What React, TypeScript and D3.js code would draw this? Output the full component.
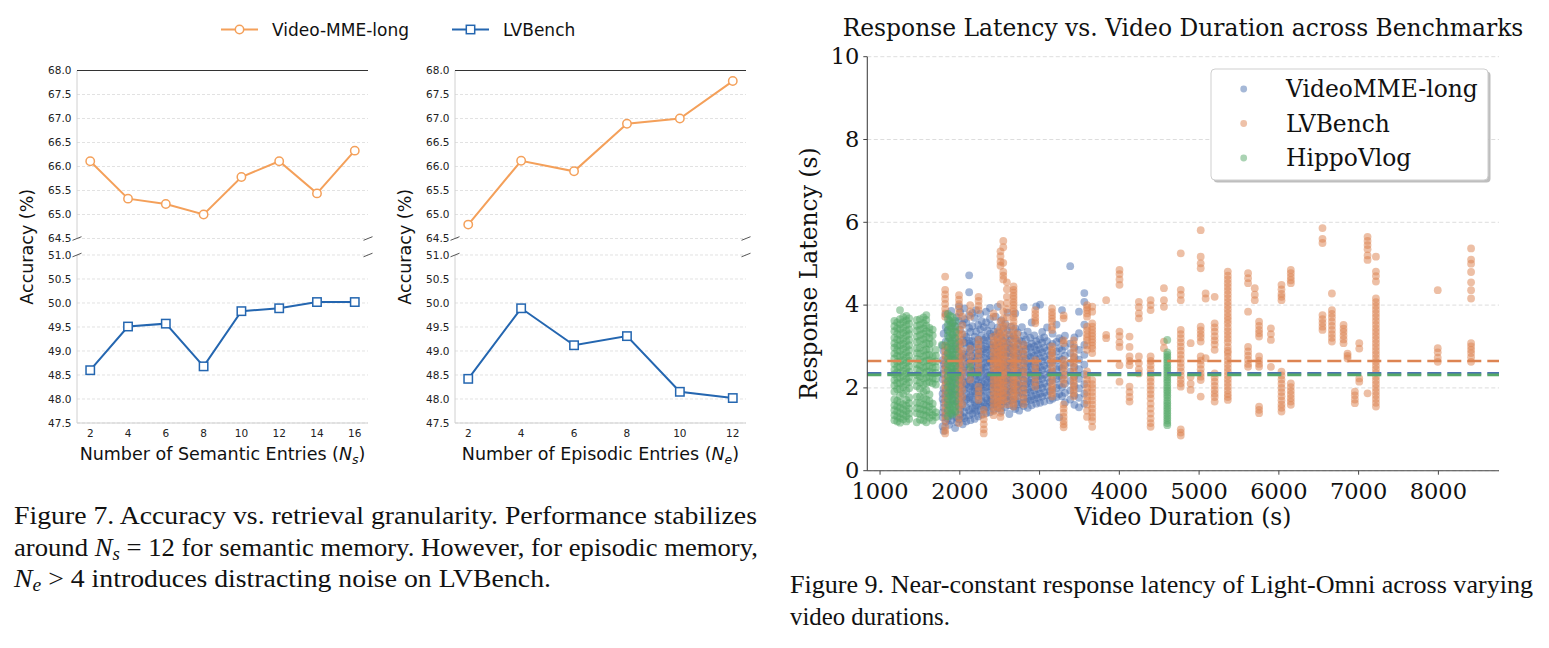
import * as d3 from 'd3'
import React, { useEffect, useRef } from 'react'

const W = 1549
const H = 648

// Figure 7: accuracy against number of retrieved entries
const semanticEntries = [2, 4, 6, 8, 10, 12, 14, 16]
const semanticVideoMME = [66.11, 65.33, 65.22, 65.0, 65.78, 66.11, 65.44, 66.33]
const semanticLVBench = [48.6, 49.51, 49.57, 48.68, 49.83, 49.89, 50.02, 50.02]

const episodicEntries = [2, 4, 6, 8, 10, 12]
const episodicVideoMME = [64.79, 66.12, 65.9, 66.89, 67.0, 67.78]
const episodicLVBench = [48.42, 49.89, 49.12, 49.31, 48.15, 48.02]

const upperTicks = [64.5, 65.0, 65.5, 66.0, 66.5, 67.0, 67.5, 68.0]
const lowerTicks = [47.5, 48.0, 48.5, 49.0, 49.5, 50.0, 50.5, 51.0]

// Figure 9: latency per question, grouped by video duration (s)
const videoMMELatency: [number, number[]][] = [
  [1784, [1.07, 1.29, 1.41, 1.73, 1.86, 2.21, 2.34, 2.67, 3.02]],
  [1797, [0.96, 1.52, 1.64, 1.98, 2.45, 2.58, 2.89, 3.31]],
  [1823, [1.18, 1.35, 1.81, 1.93, 2.12, 2.52, 2.76, 3.12, 3.47, 3.78]],
  [1848, [1.26, 1.49, 1.68, 2.07, 2.29, 2.41, 2.83, 2.97, 3.38]],
  [1866, [1.11, 1.57, 1.79, 1.89, 2.17, 2.63, 2.72, 3.21, 3.63]],
  [1893, [1.21, 1.39, 1.92, 2.03, 2.36, 2.49, 2.91, 3.08, 3.44, 3.86]],
  [1908, [1.33, 1.71, 1.84, 2.14, 2.27, 2.68, 2.81, 3.27, 3.56]],
  [1941, [1.03, 1.44, 1.61, 1.97, 2.22, 2.39, 2.71, 3.01, 3.19, 3.49]],
  [1962, [1.17, 1.28, 1.66, 1.83, 2.08, 2.47, 2.59, 2.93, 3.33, 3.71]],
  [1989, [1.24, 1.55, 1.74, 1.9, 2.18, 2.31, 2.64, 2.87, 3.11, 3.62, 3.97]],
  [2004, [1.36, 1.48, 1.87, 2.06, 2.26, 2.55, 2.74, 3.04, 3.41, 3.83]],
  [2036, [1.12, 1.31, 1.59, 1.78, 2.01, 2.19, 2.43, 2.69, 2.82, 3.16, 3.54]],
  [2058, [1.27, 1.42, 1.69, 1.95, 2.13, 2.37, 2.51, 2.79, 3.09, 3.29, 3.66, 3.92]],
  [2081, [1.19, 1.53, 1.72, 1.86, 2.09, 2.28, 2.57, 2.74, 2.96, 3.23, 3.58]],
  [2117, [1.34, 1.46, 1.77, 1.99, 2.16, 2.44, 2.62, 2.86, 3.07, 3.14, 3.45, 3.76, 4.31, 4.72]],
  [2133, [1.22, 1.63, 1.81, 2.04, 2.24, 2.33, 2.66, 2.91, 3.02, 3.35]],
  [2158, [1.38, 1.51, 1.73, 1.92, 2.11, 2.41, 2.53, 2.77, 3.13, 3.49, 3.81]],
  [2186, [1.25, 1.47, 1.66, 1.91, 2.02, 2.29, 2.48, 2.71, 2.98, 3.24, 3.69]],
  [2203, [1.43, 1.58, 1.85, 2.07, 2.21, 2.39, 2.64, 2.84, 3.06, 3.36, 3.88]],
  [2231, [1.31, 1.62, 1.79, 1.96, 2.18, 2.35, 2.59, 2.78, 2.93, 3.18, 3.52]],
  [2256, [1.46, 1.57, 1.88, 2.05, 2.26, 2.47, 2.69, 2.88, 3.11, 3.42, 3.79]],
  [2274, [1.35, 1.68, 1.81, 2.01, 2.14, 2.43, 2.56, 2.81, 3.03, 3.27, 3.61]],
  [2302, [1.5, 1.64, 1.93, 2.09, 2.31, 2.49, 2.73, 2.94, 3.16, 3.47]],
  [2329, [1.39, 1.56, 1.75, 2.02, 2.2, 2.37, 2.61, 2.85, 2.99, 3.22, 3.58, 3.84]],
  [2347, [1.54, 1.71, 1.9, 2.13, 2.28, 2.52, 2.68, 2.92, 3.14, 3.39]],
  [2378, [1.41, 1.66, 1.82, 2.04, 2.24, 2.4, 2.63, 2.79, 3.05, 3.31, 3.67, 3.93]],
  [2396, [1.58, 1.73, 1.97, 2.15, 2.33, 2.57, 2.75, 2.97, 3.24, 3.51]],
  [2427, [1.47, 1.62, 1.87, 2.07, 2.25, 2.44, 2.7, 2.89, 3.09, 3.36]],
  [2449, [1.61, 1.79, 2.01, 2.18, 2.38, 2.59, 2.82, 3.02, 3.28, 3.72]],
  [2475, [1.51, 1.69, 1.92, 2.11, 2.29, 2.49, 2.73, 2.95, 3.17, 3.46, 3.96]],
  [2493, [1.65, 1.85, 2.06, 2.22, 2.44, 2.65, 2.86, 3.07, 3.33]],
  [2522, [1.44, 1.6, 1.83, 2.0, 2.19, 2.42, 2.6, 2.81, 3.01, 3.26, 3.63]],
  [2547, [1.68, 1.88, 2.1, 2.27, 2.5, 2.71, 2.92, 3.13, 3.44]],
  [2569, [1.53, 1.77, 1.95, 2.16, 2.36, 2.55, 2.78, 2.99, 3.21, 3.55]],
  [2598, [1.67, 1.83, 2.04, 2.23, 2.46, 2.63, 2.87, 3.1, 3.39, 3.82]],
  [2621, [1.37, 1.58, 1.8, 1.98, 2.21, 2.39, 2.62, 2.84, 3.04, 3.29]],
  [2643, [1.7, 1.91, 2.12, 2.32, 2.53, 2.76, 2.96, 3.18, 3.48]],
  [2672, [1.55, 1.72, 1.96, 2.14, 2.37, 2.57, 2.8, 3.0, 3.25]],
  [2695, [1.49, 1.73, 1.94, 2.13, 2.34, 2.55, 2.77, 2.98, 3.19, 3.43, 3.8]],
  [2728, [1.6, 1.81, 2.03, 2.2, 2.41, 2.62, 2.83, 3.06, 3.34]],
  [2744, [1.45, 1.65, 1.89, 2.08, 2.3, 2.49, 2.72, 2.93, 3.15]],
  [2779, [1.63, 1.86, 2.05, 2.26, 2.44, 2.67, 2.88, 3.12, 3.47]],
  [2801, [1.56, 1.75, 1.99, 2.19, 2.4, 2.61, 2.81, 3.03, 3.27, 3.95]],
  [2829, [1.67, 1.88, 2.09, 2.29, 2.51, 2.7, 2.94, 3.17]],
  [2852, [1.52, 1.74, 1.97, 2.16, 2.38, 2.58, 2.79, 3.01, 3.36]],
  [2884, [1.7, 1.9, 2.12, 2.33, 2.52, 2.74, 2.97, 3.21]],
  [2901, [1.58, 1.8, 2.02, 2.22, 2.43, 2.64, 2.85, 3.07, 3.58]],
  [2933, [1.73, 1.94, 2.15, 2.35, 2.57, 2.78, 3.0, 3.27]],
  [2958, [1.62, 1.83, 2.06, 2.27, 2.47, 2.69, 2.91, 3.13, 3.97]],
  [2979, [1.76, 1.98, 2.19, 2.4, 2.6, 2.83, 3.04]],
  [3006, [1.64, 1.86, 2.08, 2.29, 2.5, 2.72, 2.93, 3.18, 4.01]],
  [3033, [1.79, 2.0, 2.22, 2.43, 2.64, 2.86, 3.09, 3.35]],
  [3058, [1.67, 1.89, 2.11, 2.32, 2.54, 2.75, 2.97, 3.22]],
  [3094, [1.82, 2.03, 2.25, 2.47, 2.68, 2.9, 3.13, 3.46]],
  [3129, [1.7, 1.92, 2.14, 2.36, 2.58, 2.79, 3.01]],
  [3163, [1.74, 1.95, 2.18, 2.4, 2.62, 2.84, 3.06, 3.31]],
  [3212, [1.78, 2.0, 2.22, 2.45, 2.66, 2.88, 3.11, 3.53]],
  [3247, [1.29, 1.85, 2.07, 2.29, 2.51, 2.73, 2.96, 3.2]],
  [3281, [1.8, 2.02, 2.24, 2.47, 2.69, 2.91, 3.15, 3.88]],
  [3318, [1.65, 1.88, 2.1, 2.32, 2.55, 2.78, 3.0, 3.26]],
  [3384, [1.72, 1.94, 2.17, 2.39, 2.61, 2.84, 3.07, 4.94]],
  [3437, [1.59, 1.82, 2.05, 2.28, 2.51, 2.74, 2.98, 3.22]],
  [3494, [1.53, 1.76, 1.99, 2.22, 2.45, 2.68, 2.92, 3.32, 3.84]],
  [3561, [1.62, 1.86, 2.09, 2.33, 2.56, 2.8, 3.04, 3.53, 4.08, 4.29]],
]

const lvBenchLatency: [number, number[]][] = [
  [1816, [4.69, 4.37, 4.26, 4.15, 4.03, 3.91, 3.8, 3.72, 3.02, 2.91, 2.79, 2.68, 2.55, 2.43, 2.31, 2.18, 2.06, 1.95, 1.82, 1.7, 1.58, 1.45, 1.33, 1.21, 1.06, 0.97, 0.9]],
  [1990, [4.24, 4.13, 4.02, 3.91, 3.8, 3.4, 3.29, 3.17, 3.05, 2.94, 2.83, 2.71, 2.6, 2.48, 2.37, 2.25, 2.13, 2.01, 1.9, 1.78, 1.65, 1.53, 1.41, 1.28, 1.15]],
  [2030, [3.72, 3.51, 3.3, 3.1, 2.9, 2.74, 2.6, 2.44, 2.3, 2.12, 1.95, 1.78, 1.6]],
  [2130, [4.0, 3.85, 3.72, 2.95, 2.78, 2.6, 2.41, 2.2]],
  [2235, [4.2, 4.1, 3.98, 3.88, 3.16, 3.05, 2.94, 2.83, 2.71, 2.6, 2.49, 2.38, 2.03, 1.92, 1.81, 1.71]],
  [2300, [1.47, 1.36, 1.24, 1.12, 1.0, 0.9]],
  [2423, [3.8, 3.72, 3.24, 3.15, 3.05, 2.96, 2.86, 2.77, 2.67, 2.58, 2.48, 2.39, 2.29, 2.2, 2.1, 2.01, 1.91, 1.82, 1.72, 1.63, 1.53, 1.44, 1.34]],
  [2475, [3.36, 3.22, 3.1, 2.98, 2.86, 2.74, 2.62, 2.5, 2.38, 2.26, 2.14, 2.02, 1.9, 1.78, 1.66, 1.54]],
  [2510, [5.3, 5.18, 5.05, 4.95, 4.02, 3.6, 3.45, 3.3, 3.15, 3.0, 2.9, 2.8, 2.7, 2.6, 2.5, 2.4, 2.3, 2.2, 2.1, 2.0, 1.9, 1.8, 1.7, 1.6, 1.5, 1.4, 1.3]],
  [2545, [5.55, 5.4, 5.02, 4.8, 4.71, 4.62, 3.85, 3.67, 3.5, 3.35, 3.2, 3.06, 2.93, 2.8, 2.68, 2.56, 2.43, 2.31, 2.18, 2.06, 1.94, 1.82, 1.7]],
  [2590, [4.55, 4.38, 4.2, 4.05, 3.9, 3.7, 3.5, 3.3, 3.1, 2.95, 2.8, 2.65, 2.5, 2.35, 2.2, 2.05, 1.9, 1.75, 1.6]],
  [2674, [4.45, 4.37, 4.3, 4.22, 4.15, 4.07, 4.0, 3.92, 3.85, 3.77, 3.7, 3.6, 3.5, 3.4, 3.3, 3.2, 3.1, 3.0, 2.92, 2.84, 2.75, 2.67, 2.6, 2.52, 2.45, 2.37, 2.3, 2.22, 2.15, 2.07, 2.0, 1.92, 1.85, 1.77, 1.7, 1.62, 1.55]],
  [2720, [3.3, 3.15, 3.0, 2.85, 2.7, 2.55, 2.4, 2.25, 2.1, 1.95, 1.8]],
  [2800, [3.05, 2.93, 2.82, 2.7, 2.6, 2.48, 2.38, 2.27, 2.16, 2.05, 1.94, 1.83, 1.72, 1.6]],
  [2946, [3.88, 3.79, 3.7, 3.62, 3.56, 2.67, 2.56, 2.45, 2.35, 2.25, 2.14, 2.03]],
  [3156, [3.92, 3.83, 3.75, 3.67, 3.6, 3.48, 3.4, 3.0, 2.92, 2.85, 2.77, 2.7, 2.6, 2.5, 2.4, 2.3, 2.2, 2.1, 2.02, 1.95, 1.87, 1.79]],
  [3302, [3.75, 3.68, 3.15, 3.08, 2.67, 2.58, 2.5, 2.4, 2.3, 2.2, 2.1, 1.6, 1.5, 1.4, 1.3, 1.2, 1.12, 1.05]],
  [3428, [3.15, 3.05, 2.95, 2.85, 2.75, 2.68, 2.6, 2.5, 2.4, 2.32, 2.25, 2.17, 2.1, 2.02, 1.95, 1.87, 1.79]],
  [3595, [4.0, 3.94, 3.88, 3.8, 3.72, 3.48, 3.39, 3.3, 3.22, 3.15, 3.03, 2.92, 2.4, 2.3, 2.2, 2.1, 2.0, 1.9, 1.8, 1.7, 1.6, 1.45, 1.3]],
  [3660, [3.96, 3.84, 3.56, 3.48, 3.4, 3.32, 3.25, 3.17, 3.1, 3.02, 2.95, 2.84, 2.19, 2.09, 2.0, 1.9, 1.8, 1.7, 1.6, 1.5, 1.4, 1.3, 1.2, 1.06]],
  [3835, [4.12, 3.28, 3.2]],
  [4002, [4.85, 4.75, 4.62, 4.49, 3.36, 3.25, 3.1, 2.99, 2.55, 2.15]],
  [4128, [3.24, 2.99, 2.76, 2.65, 2.55, 2.03, 1.9, 1.78, 1.67]],
  [4245, [4.08, 3.95, 3.8, 3.68, 2.76, 2.6, 2.45, 2.35]],
  [4392, [4.12, 4.0, 3.88, 2.76, 2.65, 2.55, 2.45, 2.35, 2.24, 2.15, 2.05, 1.95, 1.85, 1.75, 1.62, 1.5, 1.38, 1.26, 1.15, 1.06]],
  [4559, [4.41, 4.12, 3.96, 3.12, 2.96]],
  [4770, [5.25, 4.37, 4.25, 4.12, 3.4, 3.3, 3.2, 3.1, 3.0, 2.9, 2.8, 2.7, 2.6, 2.5, 2.4, 2.3, 2.2, 2.11, 2.03, 1.0, 0.92, 0.85]],
  [4894, [3.08, 2.27, 2.1, 1.95]],
  [5020, [5.81, 5.17, 5.01, 4.89, 3.48, 3.39, 3.3, 3.22, 3.12, 2.76, 2.66, 2.56, 2.45, 2.35, 2.27, 2.19, 1.79]],
  [5082, [4.28, 4.16, 2.72]],
  [5195, [4.2, 3.56, 3.46, 3.36, 3.25, 3.15, 3.05, 2.92, 2.35, 2.25, 2.15, 2.05, 1.95, 1.86, 1.78, 1.67]],
  [5360, [4.81, 4.71, 4.62, 4.53, 4.44, 4.35, 4.26, 4.17, 4.08, 3.99, 3.9, 3.81, 3.72, 3.64, 3.56, 3.46, 3.37, 3.28, 3.19, 3.1, 2.99, 2.9, 2.84, 2.75, 2.66, 2.57, 2.48, 2.39, 2.3, 2.21, 2.12, 2.03, 1.94, 1.85, 1.78, 1.71]],
  [5614, [4.77, 4.65, 4.53, 3.84, 2.99, 2.88, 2.78, 2.68, 2.58, 2.51]],
  [5698, [4.41, 4.25, 4.12]],
  [5752, [3.6, 3.5, 3.4, 3.32, 3.24, 2.76, 2.66, 2.58, 2.51, 1.55, 1.47, 1.39]],
  [5900, [3.44, 3.3, 3.16, 2.51]],
  [6033, [4.49, 4.38, 4.27, 4.2, 4.12, 2.39, 2.3, 2.2, 2.1, 2.0, 1.9, 1.8, 1.7, 1.6, 1.52, 1.43]],
  [6150, [4.85, 4.77, 4.68, 4.6, 4.53, 2.11, 2.02, 1.93, 1.84, 1.75, 1.67, 1.59]],
  [6547, [5.86, 5.6, 5.5, 3.76, 3.66, 3.57, 3.48, 3.4]],
  [6665, [4.28, 3.88, 3.79, 3.7, 3.6, 3.5, 3.4, 3.3, 3.21, 3.12]],
  [6811, [3.52, 3.43, 3.35, 3.26, 3.17, 3.08]],
  [6861, [2.83, 2.77, 2.71]],
  [6953, [1.91, 1.82, 1.72, 1.63]],
  [7008, [3.08, 2.95, 2.23, 2.15]],
  [7112, [5.65, 5.55, 5.45, 5.35, 5.2, 5.09, 1.87]],
  [7217, [5.17, 4.81, 4.7, 4.57, 4.16, 4.07, 3.98, 3.89, 3.8, 3.71, 3.62, 3.53, 3.44, 3.35, 3.26, 3.17, 3.08, 2.99, 2.9, 2.81, 2.72, 2.63, 2.54, 2.45, 2.36, 2.27, 2.18, 2.09, 2.0, 1.91, 1.82, 1.73, 1.64, 1.55]],
  [7992, [4.36, 2.96, 2.86, 2.73, 2.63]],
  [8410, [5.37, 5.1, 5.0, 4.8, 4.55, 4.36, 4.16, 3.08, 3.0, 2.92, 2.84, 2.74, 2.63]],
]

const hippoVlogLatency: [number, number[]][] = [
  [1180, [3.62, 3.49, 3.37, 3.21, 3.08, 2.97, 2.83, 2.71, 2.58, 2.44, 2.33, 2.19, 2.06, 1.91, 1.72, 1.58, 1.46, 1.34, 1.22]],
  [1215, [3.58, 3.44, 3.31, 3.17, 3.02, 2.91, 2.78, 2.63, 2.51, 2.38, 2.24, 2.12, 1.97, 1.69, 1.55, 1.43, 1.31, 1.19]],
  [1250, [3.88, 3.66, 3.54, 3.42, 3.28, 3.15, 3.03, 2.89, 2.76, 2.64, 2.5, 2.37, 2.25, 2.11, 1.98, 1.81, 1.65, 1.52, 1.39, 1.27, 1.16]],
  [1290, [3.71, 3.59, 3.45, 3.33, 3.19, 3.06, 2.94, 2.8, 2.67, 2.55, 2.41, 2.28, 2.16, 2.02, 1.86, 1.61, 1.48, 1.36, 1.24]],
  [1330, [3.74, 3.63, 3.52, 3.38, 3.26, 3.13, 2.99, 2.86, 2.74, 2.61, 2.47, 2.35, 2.22, 2.09, 1.93, 1.71, 1.57, 1.44, 1.32, 1.19]],
  [1365, [3.68, 3.55, 3.41, 3.3, 3.16, 3.03, 2.91, 2.77, 2.65, 2.52, 2.39, 2.26, 2.14, 1.99, 1.77, 1.63, 1.5, 1.38, 1.25]],
  [1460, [3.64, 3.5, 3.38, 3.24, 3.11, 2.96, 2.84, 2.7, 2.57, 2.45, 2.31, 2.18, 2.04, 1.79, 1.64, 1.51, 1.39, 1.17]],
  [1500, [3.66, 3.53, 3.41, 3.28, 3.14, 2.97, 2.83, 2.68, 2.54, 2.41, 2.27, 2.13, 1.98, 1.79, 1.63, 1.49, 1.37, 1.23]],
  [1545, [3.7, 3.57, 3.44, 3.31, 3.18, 3.05, 2.9, 2.76, 2.63, 2.49, 2.36, 2.23, 2.08, 1.91, 1.75, 1.6, 1.47, 1.35, 1.21]],
  [1580, [3.76, 3.64, 3.51, 3.37, 3.23, 3.08, 2.93, 2.79, 2.66, 2.52, 2.39, 2.25, 2.11, 1.94, 1.72, 1.58, 1.45, 1.33, 1.17]],
  [1620, [3.45, 3.33, 3.2, 3.06, 2.93, 2.8, 2.67, 2.53, 2.4, 2.27, 2.14, 1.84, 1.68, 1.55, 1.41, 1.28]],
  [1660, [3.41, 3.27, 3.09, 2.76, 2.62, 2.49, 2.36, 2.23, 2.11, 1.62, 1.48, 1.34, 1.21]],
  [1700, [2.92, 2.78, 2.64, 2.5, 2.36, 2.22, 2.08, 1.41, 1.3]],
  [1774, [3.04]],
  [1850, [3.79, 3.66, 3.53, 3.4, 3.26, 3.12, 2.98, 2.84, 2.71, 2.57, 2.43, 2.29, 2.16, 2.02, 1.87, 1.73, 1.59, 1.45, 1.31]],
  [1880, [3.74, 3.61, 3.48, 3.35, 3.21, 3.07, 2.93, 2.79, 2.66, 2.52, 2.38, 2.24, 2.1, 1.96, 1.81, 1.66, 1.52, 1.39]],
  [1910, [3.71, 3.57, 3.44, 3.29, 3.15, 3.01, 2.87, 2.73, 2.6, 2.46, 2.33, 2.19, 2.04, 1.89, 1.74, 1.6, 1.47, 1.36]],
  [1945, [3.62, 3.48, 3.35, 3.21, 3.07, 2.94, 2.8, 2.66, 2.53, 2.39, 2.26, 2.12, 1.98, 1.83, 1.68, 1.55, 1.42]],
  [2130, [2.51]],
  [4601, [3.16, 2.86, 2.8, 2.74, 2.68, 2.62, 2.55, 2.49, 2.43, 2.37, 2.31, 2.25, 2.19, 2.13, 2.06, 2.0, 1.94, 1.88, 1.82, 1.76, 1.69, 1.63, 1.57, 1.51, 1.45, 1.39, 1.33, 1.27, 1.21, 1.15, 1.1]],
]

const benchmarks = ['VideoMME-long', 'LVBench', 'HippoVlog']
const meanLatency = [2.355, 2.65, 2.315]
const latencyTicks = [0, 2, 4, 6, 8, 10]
const durationTicks = [1000, 2000, 3000, 4000, 5000, 6000, 7000, 8000]

const SANS = '"DejaVu Sans", sans-serif'
const SERIF = '"DejaVu Serif", serif'
const TIMES = '"Liberation Serif", "Times New Roman", serif'
const ORANGE = '#f4a05a'
const BLUE = '#2466b0'
const DEEP = ['#4c72b0', '#dd8452', '#55a868']

type Sel = d3.Selection<SVGSVGElement, unknown, null, undefined>

const drawAccuracyPanel = (svg: Sel, p: any) => {
  const n = p.entries.length
  const pad = (p.entries[n - 1] - p.entries[0]) * 0.05
  const x = d3.scaleLinear().domain([p.entries[0] - pad, p.entries[n - 1] + pad]).range([p.left, p.right])
  const yTop = d3.scaleLinear().domain([64.5, 68]).range([238.5, 70.5])
  const yBot = d3.scaleLinear().domain([47.5, 51]).range([423, 255])
  const g = svg.append('g')

  const parts: [any, number[]][] = [[yTop, upperTicks], [yBot, lowerTicks]]
  parts.forEach(([y, ticks]) => {
    g.selectAll(null).data(ticks).enter().append('line')
      .attr('x1', p.left).attr('x2', p.right)
      .attr('y1', d => y(d)).attr('y2', d => y(d))
      .style('stroke', '#d6d6d6').style('stroke-width', 0.7).style('stroke-dasharray', '3,2')
    g.selectAll(null).data(ticks).enter().append('text')
      .attr('x', p.left - 5.5).attr('y', d => y(d)).attr('dy', '0.36em')
      .attr('text-anchor', 'end')
      .style('font-family', SANS).style('font-size', '10.5px').style('fill', '#222')
      .text(d => d.toFixed(1))
    g.append('line')
      .attr('x1', p.left).attr('x2', p.left)
      .attr('y1', y.range()[0]).attr('y2', y.range()[1])
      .style('stroke', '#d0d0d0').style('stroke-width', 1)
  })

  // top spine of the upper part, bottom spine of the lower part
  g.append('line').attr('x1', p.left).attr('x2', p.right).attr('y1', yTop(68)).attr('y2', yTop(68))
    .style('stroke', '#333').style('stroke-width', 1)
  g.append('line').attr('x1', p.left).attr('x2', p.right).attr('y1', yBot(47.5)).attr('y2', yBot(47.5))
    .style('stroke', '#d0d0d0').style('stroke-width', 1)

  // diagonal break marks
  const breaks: [number, number][] = []
  ;[p.left, p.right].forEach(bx => [yTop(64.5), yBot(51)].forEach(by => breaks.push([bx, by])))
  g.selectAll(null).data(breaks).enter().append('line')
    .attr('x1', d => d[0] - 4.5).attr('y1', d => d[1] + 1.8)
    .attr('x2', d => d[0] + 4.5).attr('y2', d => d[1] - 1.8)
    .style('stroke', '#444').style('stroke-width', 0.9)

  g.selectAll(null).data(p.entries).enter().append('text')
    .attr('x', d => x(d)).attr('y', 437)
    .attr('text-anchor', 'middle')
    .style('font-family', SANS).style('font-size', '10.5px').style('fill', '#222')
    .text(d => d)

  const label = g.append('text')
    .attr('x', (p.left + p.right) / 2).attr('y', 460)
    .attr('text-anchor', 'middle')
    .style('font-family', SANS).style('font-size', '17.5px').style('fill', '#111')
  label.append('tspan').text(`Number of ${p.name} Entries (`)
  label.append('tspan').style('font-style', 'italic').text('N')
  label.append('tspan').style('font-style', 'italic').style('font-size', '12.5px').attr('dy', 3.5).text(p.sub)
  label.append('tspan').attr('dy', -3.5).text(')')

  g.append('text')
    .attr('transform', `translate(${p.left - 44},246.75) rotate(-90)`)
    .attr('text-anchor', 'middle')
    .style('font-family', SANS).style('font-size', '17.5px').style('fill', '#111')
    .text('Accuracy (%)')

  const pts = (vals: number[], y: any) => p.entries.map((e: number, i: number) => [x(e), y(vals[i])])
  const line = d3.line()

  const upper = pts(p.videoMME, yTop)
  g.append('path').attr('d', line(upper)).style('fill', 'none')
    .style('stroke', ORANGE).style('stroke-width', 2)
  g.selectAll(null).data(upper).enter().append('circle')
    .attr('cx', d => d[0]).attr('cy', d => d[1]).attr('r', 4.2)
    .style('fill', '#fff').style('stroke', ORANGE).style('stroke-width', 1.5)

  const lower = pts(p.lvBench, yBot)
  g.append('path').attr('d', line(lower)).style('fill', 'none')
    .style('stroke', BLUE).style('stroke-width', 2)
  g.selectAll(null).data(lower).enter().append('rect')
    .attr('x', d => d[0] - 4.2).attr('y', d => d[1] - 4.2).attr('width', 8.4).attr('height', 8.4)
    .style('fill', '#fff').style('stroke', BLUE).style('stroke-width', 1.5)
}

const drawAccuracyLegend = (svg: Sel) => {
  const g = svg.append('g')
  const items = [
    { name: 'Video-MME-long', color: ORANGE, x: 221, shape: 'circle' },
    { name: 'LVBench', color: BLUE, x: 452, shape: 'square' },
  ]
  items.forEach(it => {
    g.append('line').attr('x1', it.x).attr('x2', it.x + 37).attr('y1', 29.5).attr('y2', 29.5)
      .style('stroke', it.color).style('stroke-width', 2)
    if (it.shape === 'circle') {
      g.append('circle').attr('cx', it.x + 18.5).attr('cy', 29.5).attr('r', 4.2)
        .style('fill', '#fff').style('stroke', it.color).style('stroke-width', 1.5)
    } else {
      g.append('rect').attr('x', it.x + 14.3).attr('y', 25.3).attr('width', 8.4).attr('height', 8.4)
        .style('fill', '#fff').style('stroke', it.color).style('stroke-width', 1.5)
    }
    g.append('text').attr('x', it.x + 51).attr('y', 35.5)
      .style('font-family', SANS).style('font-size', '17px').style('fill', '#111')
      .text(it.name)
  })
}

const drawLatencyScatter = (svg: Sel) => {
  const left = 867.3, right = 1499, top = 56.7, bottom = 470.7
  const x = d3.scaleLinear().domain([840, 8760]).range([left, right])
  const y = d3.scaleLinear().domain([0, 10]).range([bottom, top])
  const g = svg.append('g')

  g.selectAll(null).data(latencyTicks).enter().append('line')
    .attr('x1', left).attr('x2', right)
    .attr('y1', d => y(d)).attr('y2', d => y(d))
    .style('stroke', '#d4d4d4').style('stroke-width', 0.8).style('stroke-dasharray', '4,2.5')

  const series = [videoMMELatency, lvBenchLatency, hippoVlogLatency]
  series.forEach((cols, si) => {
    const points = cols.flatMap(([d, vals]) => vals.map(v => [d, v]))
    g.append('g').selectAll('circle').data(points).enter().append('circle')
      .attr('cx', d => x(d[0])).attr('cy', d => y(d[1])).attr('r', 3.9)
      .style('fill', DEEP[si]).style('fill-opacity', 0.52)
  })

  ;[1, 0, 2].forEach(si => {
    g.append('line')
      .attr('x1', left).attr('x2', right)
      .attr('y1', y(meanLatency[si])).attr('y2', y(meanLatency[si]))
      .style('stroke', DEEP[si]).style('stroke-width', 2.6).style('stroke-dasharray', '14,6')
  })

  g.append('line').attr('x1', left).attr('x2', left).attr('y1', top).attr('y2', bottom)
    .style('stroke', '#444').style('stroke-width', 1.1)
  g.append('line').attr('x1', left).attr('x2', right).attr('y1', bottom).attr('y2', bottom)
    .style('stroke', '#444').style('stroke-width', 1.1)

  g.selectAll(null).data(latencyTicks).enter().append('line')
    .attr('x1', left - 4).attr('x2', left).attr('y1', d => y(d)).attr('y2', d => y(d))
    .style('stroke', '#444').style('stroke-width', 1)
  g.selectAll(null).data(latencyTicks).enter().append('text')
    .attr('x', left - 8).attr('y', d => y(d)).attr('dy', '0.32em').attr('text-anchor', 'end')
    .style('font-family', SERIF).style('font-size', '22.5px').style('fill', '#111')
    .text(d => d)

  g.selectAll(null).data(durationTicks).enter().append('line')
    .attr('x1', d => x(d)).attr('x2', d => x(d)).attr('y1', bottom).attr('y2', bottom + 4)
    .style('stroke', '#444').style('stroke-width', 1)
  g.selectAll(null).data(durationTicks).enter().append('text')
    .attr('x', d => x(d)).attr('y', 499).attr('text-anchor', 'middle')
    .style('font-family', SERIF).style('font-size', '22.5px').style('fill', '#111')
    .text(d => d)

  g.append('text').attr('x', 1183).attr('y', 525).attr('text-anchor', 'middle')
    .style('font-family', SERIF).style('font-size', '23.4px').style('fill', '#111')
    .text('Video Duration (s)')
  g.append('text')
    .attr('transform', `translate(817,${(top + bottom) / 2 + 10}) rotate(-90)`)
    .attr('text-anchor', 'middle')
    .style('font-family', SERIF).style('font-size', '23.4px').style('fill', '#111')
    .text('Response Latency (s)')
  g.append('text').attr('x', 1183).attr('y', 35.5).attr('text-anchor', 'middle')
    .style('font-family', SERIF).style('font-size', '23.4px').style('fill', '#111')
    .text('Response Latency vs. Video Duration across Benchmarks')

  // legend with drop shadow
  const lg = g.append('g')
  lg.append('rect').attr('x', 1213.5).attr('y', 71.5).attr('width', 277).attr('height', 111).attr('rx', 4)
    .style('fill', '#888').style('fill-opacity', 0.55)
  lg.append('rect').attr('x', 1211).attr('y', 69).attr('width', 277).attr('height', 111).attr('rx', 4)
    .style('fill', '#fff').style('stroke', '#cfcfcf').style('stroke-width', 1)
  benchmarks.forEach((b, i) => {
    const cy = 89 + i * 34.5
    lg.append('circle').attr('cx', 1243.7).attr('cy', cy).attr('r', 3.4)
      .style('fill', DEEP[i]).style('fill-opacity', 0.5)
    lg.append('text').attr('x', 1286).attr('y', cy + 8)
      .style('font-family', SERIF).style('font-size', '23.4px').style('fill', '#111')
      .text(b)
  })
}

const drawCaptions = (svg: Sel) => {
  const g = svg.append('g').attr('font-family', TIMES).style('font-size', '25.5px').style('fill', '#111')
  const sub = (t: any, main: string, s: string) => {
    t.append('tspan').style('font-style', 'italic').text(main)
    t.append('tspan').style('font-style', 'italic').style('font-size', '18px').attr('dy', 4).text(s)
  }

  g.append('text').attr('x', 14).attr('y', 524).attr('textLength', 743).attr('lengthAdjust', 'spacingAndGlyphs')
    .text('Figure 7. Accuracy vs. retrieval granularity. Performance stabilizes')

  const l2 = g.append('text').attr('x', 14).attr('y', 556).attr('textLength', 744).attr('lengthAdjust', 'spacingAndGlyphs')
  l2.append('tspan').text('around ')
  sub(l2, 'N', 's')
  l2.append('tspan').attr('dy', -4).text(' = 12 for semantic memory. However, for episodic memory,')

  const l3 = g.append('text').attr('x', 14).attr('y', 587).attr('textLength', 537).attr('lengthAdjust', 'spacingAndGlyphs')
  sub(l3, 'N', 'e')
  l3.append('tspan').attr('dy', -4).text(' > 4 introduces distracting noise on LVBench.')

  g.append('text').attr('x', 790).attr('y', 593).attr('textLength', 743).attr('lengthAdjust', 'spacingAndGlyphs')
    .text('Figure 9. Near-constant response latency of Light-Omni across varying')
  g.append('text').attr('x', 790).attr('y', 625).attr('textLength', 160).attr('lengthAdjust', 'spacingAndGlyphs')
    .text('video durations.')
}

export default function App() {
  const ref = useRef<SVGSVGElement>(null)

  useEffect(() => {
    const svg = d3.select(ref.current as SVGSVGElement)
    svg.selectAll('*').remove()
    drawAccuracyLegend(svg)
    drawAccuracyPanel(svg, {
      left: 77, right: 368, name: 'Semantic', sub: 's',
      entries: semanticEntries, videoMME: semanticVideoMME, lvBench: semanticLVBench,
    })
    drawAccuracyPanel(svg, {
      left: 455, right: 746, name: 'Episodic', sub: 'e',
      entries: episodicEntries, videoMME: episodicVideoMME, lvBench: episodicLVBench,
    })
    drawLatencyScatter(svg)
    drawCaptions(svg)
  }, [])

  return (
    <svg ref={ref} width={W} height={H}
      style={{ position: 'absolute', left: 0, top: 0, background: '#fff' }} />
  )
}
